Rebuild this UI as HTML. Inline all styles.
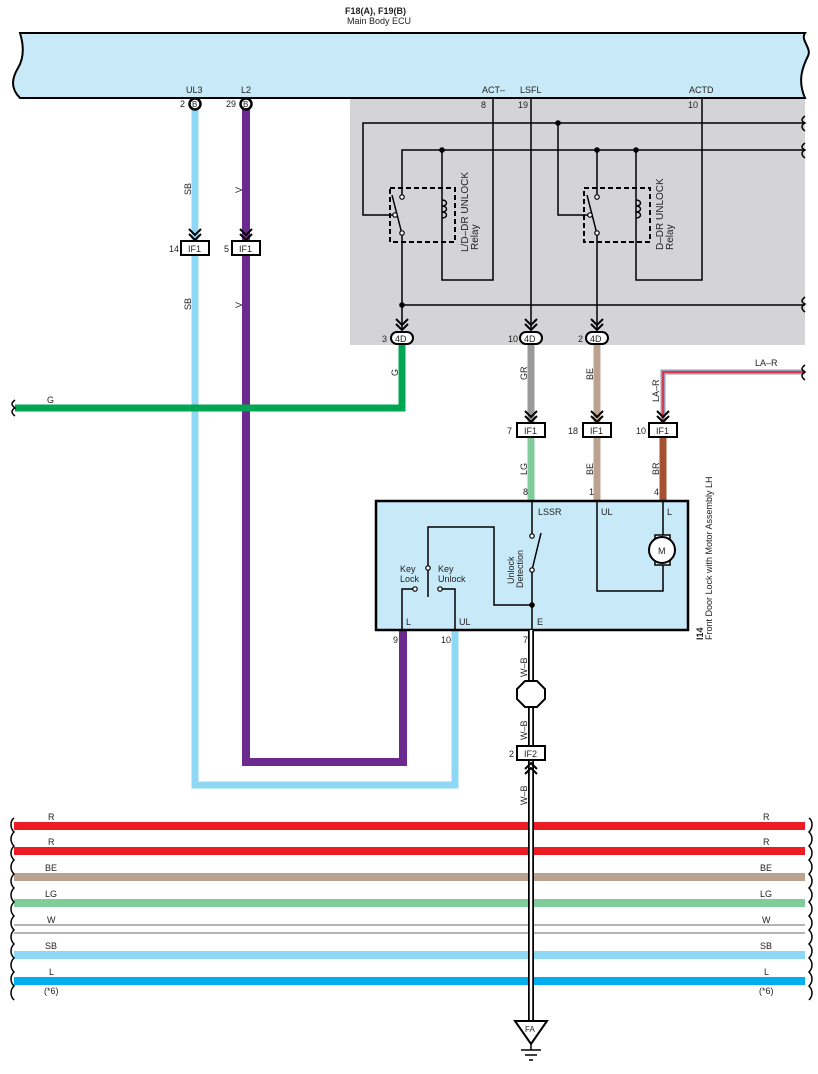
<!DOCTYPE html>
<html><head><meta charset="utf-8"><style>
html,body{margin:0;padding:0;background:#fff}
svg{display:block}
text{font-family:"Liberation Sans",sans-serif;font-size:9px;fill:#222}
</style></head><body>
<svg width="818" height="1074" viewBox="0 0 818 1074" xmlns="http://www.w3.org/2000/svg">
<defs>
<g id="chev"><path d="M-6,-7 L0,-1 L6,-7 M-6,-2 L0,4 L6,-2" fill="none" stroke="#000" stroke-width="2"/></g>
<g id="chevup"><path d="M-6,7 L0,1 L6,7 M-6,2 L0,-4 L6,2" fill="none" stroke="#000" stroke-width="2"/></g>
</defs>
<!-- ECU band -->
<text x="345" y="14" style="font-weight:bold">F18(A), F19(B)</text>
<text x="347" y="24">Main Body ECU</text>
<path d="M20,33 L805,33 C800,40 812,48 808,56 C803,66 797,80 805,98 L20,98 C10,88 12,78 18,68 C24,58 24,46 20,33 Z" fill="#c8e9f8" stroke="#000" stroke-width="2"/>
<text x="186" y="93">UL3</text><text x="241" y="93">L2</text>
<text x="482" y="93">ACT–</text><text x="520" y="93">LSFL</text><text x="689" y="93">ACTD</text>
<!-- gray area -->
<rect x="350" y="99" width="455" height="246" fill="#d4d4d6"/>
<g fill="none" stroke="#000" stroke-width="1.5">
<path d="M493,99 V280 H442 V150"/>
<path d="M805,123 H363 V215 H395"/>
<path d="M805,150 H402 V197"/>
<path d="M402,233 V330"/>
<path d="M402,305 H805"/>
<path d="M531,99 V330"/>
<path d="M558,123 V215 H590"/>
<path d="M597,150 V197"/>
<path d="M597,233 V330"/>
<path d="M636,150 V280 H702 V99"/>
<path d="M392,195 L402,234"/>
<path d="M587,195 L597,234"/>
<path d="M442,200 c6,0 6,6 0,6 c6,0 6,6 0,6 c6,0 6,6 0,6"/>
<path d="M636,200 c6,0 6,6 0,6 c6,0 6,6 0,6 c6,0 6,6 0,6"/>
<rect x="390" y="188" width="65" height="54" stroke-dasharray="5,3" stroke-width="2"/>
<rect x="584" y="188" width="66" height="54" stroke-dasharray="5,3" stroke-width="2"/>
<path d="M805,116 c-4,3 -4,5 0,7 c-4,2 -4,5 0,8 M805,143 c-4,3 -4,5 0,7 c-4,2 -4,5 0,8 M805,297 c-4,3 -4,5 0,7 c-4,2 -4,5 0,8"/>
</g>
<g fill="#fff" stroke="#000" stroke-width="1.2">
<circle cx="402" cy="197" r="2.2"/><circle cx="395" cy="215" r="2.2"/><circle cx="402" cy="233" r="2.2"/>
<circle cx="597" cy="197" r="2.2"/><circle cx="590" cy="215" r="2.2"/><circle cx="597" cy="233" r="2.2"/>
</g>
<g fill="#000"><circle cx="442" cy="150" r="2.8"/><circle cx="558" cy="123" r="2.8"/><circle cx="597" cy="150" r="2.8"/><circle cx="636" cy="150" r="2.8"/><circle cx="402" cy="305" r="2.8"/></g>
<text x="481" y="108">8</text><text x="518" y="108">19</text><text x="688" y="108">10</text>
<text transform="translate(468,252) rotate(-90)" style="font-size:10px">L/D–DR UNLOCK</text>
<text transform="translate(478,250) rotate(-90)" style="font-size:10px">Relay</text>
<text transform="translate(663,250) rotate(-90)" style="font-size:10px">D–DR UNLOCK</text>
<text transform="translate(673,250) rotate(-90)" style="font-size:10px">Relay</text>
<!-- main wires -->
<path d="M195,108 V785 H455 V630" fill="none" stroke="#8fd8f5" stroke-width="7"/>
<path d="M246,108 V762 H403 V630" fill="none" stroke="#6b2a8e" stroke-width="8"/>
<path d="M402,345 V408 H15" fill="none" stroke="#00a651" stroke-width="7"/>
<path d="M531,345 V423" stroke="#999" stroke-width="7"/>
<path d="M531,437 V500" stroke="#80cc9a" stroke-width="7"/>
<path d="M597,345 V500" stroke="#bba48f" stroke-width="7"/>
<path d="M663,437 V500" stroke="#a5502f" stroke-width="7"/>
<path d="M805,372 H663 V422" fill="none" stroke="#9a98b8" stroke-width="5"/>
<path d="M805,372 H663 V422" fill="none" stroke="#ed1c24" stroke-width="1.5"/>
<path d="M805,365 c-4,3 -4,5 0,7 c-4,2 -4,5 0,8" fill="none" stroke="#000" stroke-width="1.5"/>
<path d="M15,400 c-4,3 -4,5 0,8 c-4,2 -4,5 0,8" fill="none" stroke="#000" stroke-width="1.5"/>
<!-- B connectors -->
<g fill="#fff" stroke="#000" stroke-width="2.5"><circle cx="195" cy="104" r="5.5"/><circle cx="246" cy="104" r="5.5"/></g>
<text x="192" y="107" style="font-size:8px">B</text><text x="243" y="107" style="font-size:8px">B</text>
<text x="180" y="107">2</text><text x="226" y="107">29</text>
<!-- wire labels -->
<text transform="translate(191,195) rotate(-90)">SB</text>
<text transform="translate(242,193) rotate(-90)">V</text>
<text transform="translate(191,310) rotate(-90)">SB</text>
<text transform="translate(242,308) rotate(-90)">V</text>
<text transform="translate(398,376) rotate(-90)">G</text>
<text x="47" y="403">G</text>
<text transform="translate(527,380) rotate(-90)">GR</text>
<text transform="translate(593,380) rotate(-90)">BE</text>
<text transform="translate(659,402) rotate(-90)">LA–R</text>
<text x="755" y="366">LA–R</text>
<text transform="translate(527,475) rotate(-90)">LG</text>
<text transform="translate(593,475) rotate(-90)">BE</text>
<text transform="translate(659,475) rotate(-90)">BR</text>
<text x="523" y="495">8</text><text x="589" y="495">1</text><text x="654" y="495">4</text>
<!-- IF1 connectors -->
<g>
<use href="#chev" x="195" y="236"/><use href="#chev" x="246" y="236"/>
<use href="#chev" x="402" y="326"/><use href="#chev" x="531" y="326"/><use href="#chev" x="597" y="326"/>
<use href="#chev" x="531" y="418"/><use href="#chev" x="597" y="418"/><use href="#chev" x="663" y="418"/>
</g>
<g fill="#fff" stroke="#000" stroke-width="2">
<rect x="181" y="241" width="28" height="14"/><rect x="232" y="241" width="28" height="14"/>
<rect x="517" y="423" width="28" height="14"/><rect x="583" y="423" width="28" height="14"/><rect x="649" y="423" width="28" height="14"/>
<rect x="391" y="332" width="22" height="12" rx="6"/><rect x="520" y="332" width="22" height="12" rx="6"/><rect x="586" y="332" width="22" height="12" rx="6"/>
</g>
<text x="188" y="252">IF1</text><text x="239" y="252">IF1</text>
<text x="524" y="434">IF1</text><text x="590" y="434">IF1</text><text x="656" y="434">IF1</text>
<text x="395" y="342">4D</text><text x="524" y="342">4D</text><text x="590" y="342">4D</text>
<text x="169" y="252">14</text><text x="224" y="252">5</text>
<text x="507" y="434">7</text><text x="568" y="434">18</text><text x="636" y="434">10</text>
<text x="382" y="342">3</text><text x="508" y="342">10</text><text x="578" y="342">2</text>
<!-- component box -->
<rect x="376" y="501" width="312" height="129" fill="#c8e9f8" stroke="#000" stroke-width="2.5"/>
<g fill="none" stroke="#000" stroke-width="1.5">
<path d="M532,501 V534"/><path d="M532,570 V630"/><path d="M532,570 L541,533"/>
<path d="M532,605 H494 V527 H428 V566"/><path d="M428,570 V597"/>
<path d="M413,589 H402 V630"/><path d="M442,589 H455 V630"/>
<path d="M597,501 V591 H663 V501"/>
</g>
<g fill="#fff" stroke="#000" stroke-width="1.2">
<circle cx="532" cy="536" r="2.2"/><circle cx="532" cy="570" r="2.2"/><circle cx="428" cy="568" r="2.2"/>
<circle cx="415" cy="589" r="2.2"/><circle cx="440" cy="589" r="2.2"/>
</g>
<circle cx="532" cy="605" r="2.8"/>
<rect x="655" y="535" width="15" height="30" fill="#fff" stroke="#000" stroke-width="1.5"/>
<circle cx="662" cy="550" r="13" fill="#fff" stroke="#000" stroke-width="2"/>
<text x="658" y="554">M</text>
<text x="538" y="515">LSSR</text><text x="601" y="515">UL</text><text x="667" y="515">L</text>
<text x="400" y="572">Key</text><text x="400" y="582">Lock</text>
<text x="438" y="572">Key</text><text x="438" y="582">Unlock</text>
<text transform="translate(514,584) rotate(-90)">Unlock</text>
<text transform="translate(523,588) rotate(-90)">Detection</text>
<text x="406" y="625">L</text><text x="459" y="625">UL</text><text x="537" y="625">E</text>
<text x="393" y="643">9</text><text x="441" y="643">10</text><text x="523" y="643">7</text>
<text transform="translate(703,640) rotate(-90)" style="font-weight:bold">I14</text>
<text transform="translate(712,640) rotate(-90)">Front Door Lock with Motor Assembly LH</text>
<!-- bus lines -->
<g stroke-width="8">
<path d="M14,826 H805" stroke="#ed1c24"/><path d="M14,851 H805" stroke="#ed1c24"/>
<path d="M14,877 H805" stroke="#bba48f"/><path d="M14,903 H805" stroke="#80cc9a"/>
<path d="M14,955 H805" stroke="#8fd8f5"/><path d="M14,981 H805" stroke="#00aeef"/>
</g>
<path d="M14,925 H805 M14,933 H805" stroke="#888" stroke-width="1.3"/>
<g fill="none" stroke="#000" stroke-width="1.5">
<path d="M14,818 c-4,3 -4,10 0,14 c-4,4 -4,10 0,14 c-4,4 -4,10 0,14 c-4,4 -4,10 0,14 c-4,4 -4,10 0,14 c-4,4 -4,10 0,14 c-4,4 -4,10 0,14 c-4,4 -4,10 0,14 c-4,4 -4,10 0,14 c-4,4 -4,10 0,14 c-4,4 -4,10 0,14 c-4,4 -4,10 0,14 c-4,4 -4,10 0,14"/>
<path d="M809,818 c4,3 4,10 0,14 c4,4 4,10 0,14 c4,4 4,10 0,14 c4,4 4,10 0,14 c4,4 4,10 0,14 c4,4 4,10 0,14 c4,4 4,10 0,14 c4,4 4,10 0,14 c4,4 4,10 0,14 c4,4 4,10 0,14 c4,4 4,10 0,14 c4,4 4,10 0,14 c4,4 4,10 0,14"/>
</g>
<g style="font-size:8px">
<text x="48" y="820">R</text><text x="48" y="845">R</text><text x="45" y="871">BE</text><text x="45" y="897">LG</text><text x="47" y="923">W</text><text x="45" y="949">SB</text><text x="49" y="975">L</text><text x="44" y="994">(*6)</text>
<text x="763" y="820">R</text><text x="763" y="845">R</text><text x="760" y="871">BE</text><text x="760" y="897">LG</text><text x="762" y="923">W</text><text x="760" y="949">SB</text><text x="764" y="975">L</text><text x="759" y="994">(*6)</text>
</g>
<!-- W-B wire -->
<path d="M531,630 V1020" stroke="#000" stroke-width="6"/>
<path d="M531,630 V1020" stroke="#fff" stroke-width="2.5"/>
<polygon points="525,681 537,681 545,689 545,699 537,707 525,707 517,699 517,689" fill="#fff" stroke="#000" stroke-width="2"/>
<rect x="517" y="746" width="28" height="14" fill="#fff" stroke="#000" stroke-width="2"/>
<text x="524" y="757">IF2</text><text x="509" y="757">2</text>
<use href="#chevup" x="531" y="767"/>
<text transform="translate(527,677) rotate(-90)">W–B</text>
<text transform="translate(527,740) rotate(-90)">W–B</text>
<text transform="translate(527,805) rotate(-90)">W–B</text>
<polygon points="515,1021 547,1021 531,1044" fill="#fff" stroke="#000" stroke-width="2"/>
<text x="525" y="1032" style="font-size:8px">FA</text>
<path d="M531,1044 V1050 M521,1050 H541 M525,1055 H537 M529,1060 H533" stroke="#000" stroke-width="1.5"/>
</svg>
</body></html>
